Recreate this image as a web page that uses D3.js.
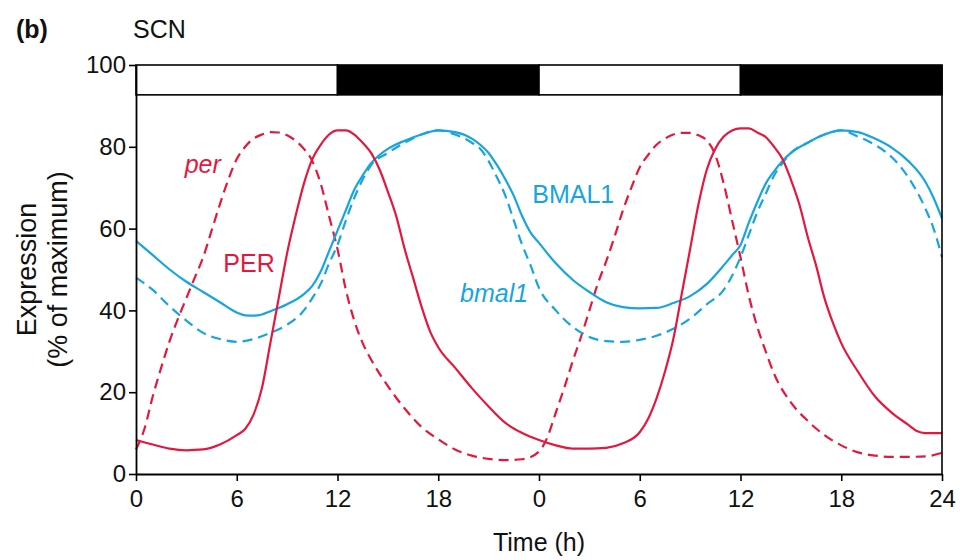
<!DOCTYPE html>
<html>
<head>
<meta charset="utf-8">
<script src="https://cdn.jsdelivr.net/npm/d3@7"></script>
<style>
  html, body { margin: 0; padding: 0; background: #fff; }
  svg { display: block; font-family: "Liberation Sans", Arial, sans-serif; }
</style>
</head>
<body>
<svg id="chart" width="960" height="560"></svg>
<script>
// Time axis: two consecutive days, hours 0–48
const xTickValues = [0, 6, 12, 18, 24, 30, 36, 42, 48];
const xTickLabels = ["0", "6", "12", "18", "0", "6", "12", "18", "24"];
const yTickValues = [0, 20, 40, 60, 80, 100];

// Light/dark schedule (hours)
const lightPhases = [
  { start: 0, end: 12, dark: false },
  { start: 12, end: 24, dark: true },
  { start: 24, end: 36, dark: false },
  { start: 36, end: 48, dark: true }
];

// PER protein (solid red)
const perProtein = [
  [0, 8.3], [1, 7.2], [2, 6.2], [3, 5.8], [4, 6.0], [5, 7.2], [6, 9.5], [6.5, 11], [7, 14.5],
  [7.5, 21], [8, 32], [8.5, 43], [9, 54], [9.5, 63], [10, 71], [10.5, 77], [11, 80.5],
  [11.5, 83], [12, 84], [12.5, 84], [13, 83], [13.5, 81], [14, 78.5], [14.5, 74.5], [15, 69],
  [15.5, 63], [16, 55], [16.5, 48], [17, 41], [17.5, 35], [18, 31], [19, 26], [20, 21],
  [21, 16.5], [22, 12.5], [23, 10], [24, 8.3], [25, 7], [26, 6.2], [27, 6.2], [28, 6.4],
  [29, 7.5], [30, 10.2], [30.5, 13.5], [31, 18.5], [31.5, 25], [32, 33], [32.5, 44], [33, 55],
  [33.5, 66], [34, 74.5], [34.5, 79.5], [35, 82.5], [35.5, 84], [36, 84.5], [36.5, 84.5],
  [37, 83.5], [37.5, 82.4], [38, 80], [38.5, 77], [39, 72], [39.5, 66], [40, 58], [40.5, 51],
  [41, 43], [41.5, 37], [42, 32], [43, 25], [44, 19], [45, 15], [46, 12], [46.5, 10.5],
  [47, 10], [48, 10]
];

// per mRNA (dashed red)
const perMrna = [
  [0, 6], [0.5, 11], [1, 19], [1.5, 26], [2, 32.5], [2.5, 38], [3, 43], [3.5, 48], [4, 53],
  [4.5, 59.5], [5, 66], [5.5, 72], [6, 77], [6.5, 80], [7, 82], [7.5, 83], [8, 83.6], [8.5, 83.5],
  [9, 82.8], [9.5, 81.5], [10, 79.5], [10.5, 76.5], [11, 71], [11.5, 63], [12, 55], [12.5, 45],
  [13, 37.5], [13.5, 32], [14, 28], [15, 21.5], [16, 16], [17, 11.5], [18, 8.5], [19, 6],
  [20, 4.5], [21, 3.7], [22, 3.4], [23, 3.6], [24, 5.5], [24.5, 9], [25, 15], [25.5, 21],
  [26, 27.5], [26.5, 33.5], [27, 40], [27.5, 46.5], [28, 52], [28.5, 58], [29, 64.5], [29.5, 70],
  [30, 75], [30.5, 78], [31, 80.5], [31.5, 82], [32, 83], [32.5, 83.4], [33, 83.4],
  [33.5, 82.8], [34, 81.5], [34.5, 78], [35, 71], [35.5, 62], [36, 53], [36.5, 43.5], [37, 36],
  [37.5, 30], [38, 24.5], [39, 17.5], [40, 13], [41, 9.5], [42, 7], [43, 5.3], [44, 4.5],
  [45, 4.2], [46, 4.2], [47, 4.3], [48, 5.2]
];

// BMAL1 protein (solid blue)
const bmalProtein = [
  [0, 57], [1, 53.5], [2, 50], [3, 47], [4, 44.5], [5, 42], [6, 39.5], [6.5, 38.8], [7, 38.7],
  [7.5, 39], [8, 39.8], [9, 41.5], [10, 44], [10.5, 46], [11, 49.5], [11.5, 54.5], [12, 59.5],
  [12.5, 64.5], [13, 69.5], [13.5, 73], [14, 76], [14.5, 78], [15, 79.5], [16, 81.5], [17, 83],
  [18, 84], [19, 83.6], [20, 82], [20.5, 80.5], [21, 78.5], [21.5, 75.5], [22, 72], [22.5, 68],
  [23, 63], [23.5, 59], [24, 56.5], [25, 51.5], [26, 47.5], [27, 44.5], [28, 42], [29, 40.8],
  [30, 40.5], [31, 40.6], [32, 41.8], [33, 43.5], [34, 46.5], [35, 51], [35.5, 53.5], [36, 56],
  [36.5, 61.5], [37, 66.5], [37.5, 71], [38, 74], [38.5, 76.5], [39, 78.5], [40, 81], [41, 83],
  [42, 84], [43, 83.6], [44, 82], [45, 79.8], [46, 76.5], [47, 71.5], [47.5, 67.5], [48, 62.5]
];

// bmal1 mRNA (dashed blue)
const bmalMrna = [
  [0, 48], [1, 45], [2, 41], [3, 37.5], [4, 34.5], [5, 33], [6, 32.3], [7, 33], [8, 34.5],
  [9, 36.5], [10, 40], [10.5, 43], [11, 46.5], [11.5, 51.5], [12, 56], [12.5, 62], [13, 67.5],
  [13.5, 72], [14, 75.5], [15, 78.5], [16, 81], [17, 83], [18, 84], [19, 83], [20, 81],
  [20.5, 79.5], [21, 76.5], [21.5, 72.5], [22, 68], [22.5, 62], [23, 56], [23.5, 51],
  [24, 45.5], [25, 40], [26, 36], [27, 33.5], [28, 32.5], [29, 32.3], [30, 32.8], [31, 33.8],
  [32, 35.5], [33, 38], [34, 41.5], [35, 45], [35.5, 48.5], [36, 53], [36.5, 58.5], [37, 64],
  [37.5, 68.5], [38, 73], [38.5, 76], [39, 78.5], [40, 81], [41, 83], [42, 84], [43, 82.5],
  [44, 80.5], [45, 77.5], [46, 72.5], [47, 65], [47.5, 60], [48, 53]
];

const RED = "#e5173d";
const BLUE = "#17a5e0";

const series = [
  { name: "perMrna", data: perMrna, color: RED, dashed: true },
  { name: "bmalMrna", data: bmalMrna, color: BLUE, dashed: true },
  { name: "bmalProtein", data: bmalProtein, color: BLUE, dashed: false },
  { name: "perProtein", data: perProtein, color: RED, dashed: false }
];

const svg = d3.select("#chart");
const x = d3.scaleLinear().domain([0, 48]).range([136, 942]);
const y = d3.scaleLinear().domain([0, 100]).range([474, 65]);

// Light/dark bar across the top of the plot
const barLow = 92.7;
const bar = svg.append("g");
bar.selectAll("rect")
  .data(lightPhases)
  .join("rect")
  .attr("x", d => x(d.start))
  .attr("y", y(100))
  .attr("width", d => x(d.end) - x(d.start))
  .attr("height", y(barLow) - y(100))
  .attr("fill", d => d.dark ? "#000" : "#fff")
  .attr("stroke", "#000")
  .attr("stroke-width", 1.6);

// Curves
const line = d3.line()
  .x(d => x(d[0]))
  .y(d => y(d[1]))
  .curve(d3.curveMonotoneX);

svg.append("g")
  .selectAll("path")
  .data(series)
  .join("path")
  .attr("d", d => line(d.data))
  .attr("fill", "none")
  .attr("stroke", d => d.color)
  .attr("stroke-width", 2.2)
  .attr("stroke-dasharray", d => d.dashed ? "10,6" : null);

// Frame: right edge
svg.append("line")
  .attr("x1", x(48)).attr("x2", x(48))
  .attr("y1", y(100)).attr("y2", y(0))
  .attr("stroke", "#000").attr("stroke-width", 1.6);

// Axes
const xAxis = d3.axisBottom(x)
  .tickValues(xTickValues)
  .tickFormat((d, i) => xTickLabels[i])
  .tickSizeInner(7).tickSizeOuter(0).tickPadding(9);
const yAxis = d3.axisLeft(y)
  .tickValues(yTickValues)
  .tickSizeInner(7).tickSizeOuter(0).tickPadding(3);

const gx = svg.append("g").attr("transform", `translate(0,${y(0)})`).call(xAxis);
const gy = svg.append("g").attr("transform", `translate(${x(0)},0)`).call(yAxis);
[gx, gy].forEach(g => {
  g.select(".domain").attr("stroke", "#000").attr("stroke-width", 1.8);
  g.selectAll(".tick line").attr("stroke", "#000").attr("stroke-width", 1.6);
  g.selectAll(".tick text")
    .attr("fill", "#111")
    .style("font-family", "'Liberation Sans', Arial, sans-serif")
    .style("font-size", "24px");
});

// Axis titles
svg.append("text")
  .attr("x", (x(0) + x(48)) / 2).attr("y", 551)
  .attr("text-anchor", "middle")
  .style("font-size", "25px").attr("fill", "#111")
  .text("Time (h)");

const yTitle = svg.append("text")
  .attr("transform", `translate(0,${y(50)}) rotate(-90)`)
  .attr("text-anchor", "middle")
  .style("font-size", "27px").attr("fill", "#111");
yTitle.append("tspan").attr("x", 0).attr("y", 36).text("Expression");
yTitle.append("tspan").attr("x", 0).attr("y", 67).text("(% of maximum)");

// Panel heading
svg.append("text").attr("x", 16).attr("y", 38)
  .style("font-size", "25px").style("font-weight", "bold").attr("fill", "#111")
  .text("(b)");
svg.append("text").attr("x", 133).attr("y", 38)
  .style("font-size", "25px").attr("fill", "#111")
  .text("SCN");

// Series labels
const labels = [
  { text: "per", t: 2.9, v: 73.6, color: RED, italic: true },
  { text: "PER", t: 5.2, v: 49.4, color: RED, italic: false },
  { text: "BMAL1", t: 23.6, v: 66.2, color: BLUE, italic: false },
  { text: "bmal1", t: 19.3, v: 42.1, color: BLUE, italic: true }
];
svg.append("g")
  .selectAll("text")
  .data(labels)
  .join("text")
  .attr("x", d => x(d.t))
  .attr("y", d => y(d.v))
  .attr("fill", d => d.color)
  .style("font-size", "25px")
  .style("font-style", d => d.italic ? "italic" : "normal")
  .text(d => d.text);
</script>
</body>
</html>
